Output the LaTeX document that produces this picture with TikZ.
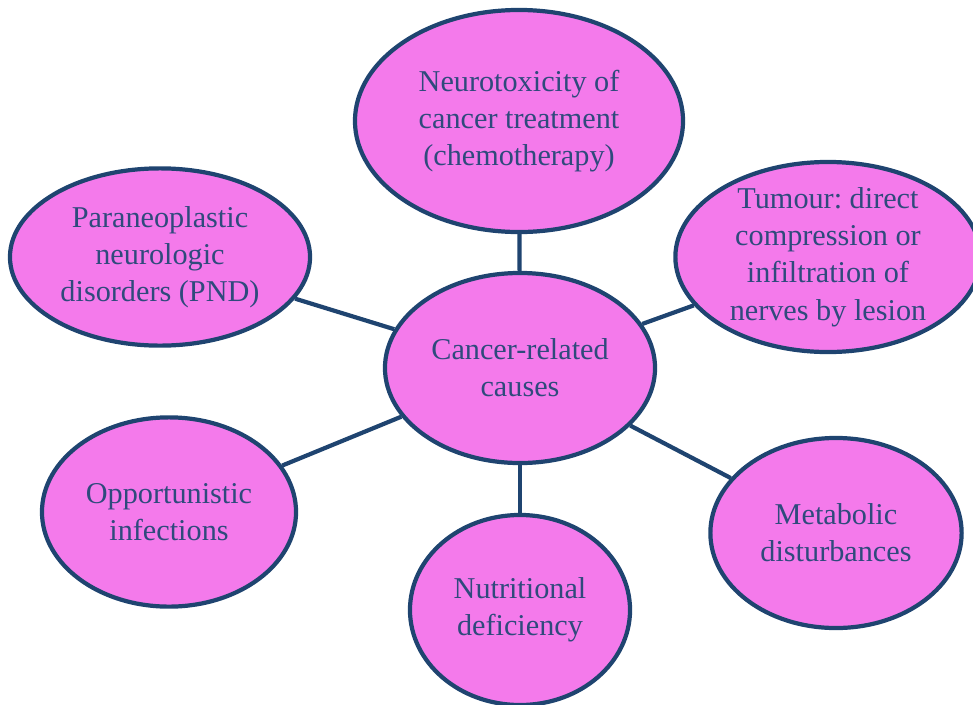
\documentclass[tikz,border=0pt]{standalone}
\usepackage{fontspec}
\setmainfont{Liberation Serif}
\usetikzlibrary{shapes.geometric}
\frenchspacing

\definecolor{bubblefill}{HTML}{F47AEB}
\definecolor{rim}{HTML}{1F4470}
\definecolor{ink}{HTML}{2F4A7C}

\tikzset{
    bubble/.style={shape=ellipse, draw=rim, fill=bubblefill, line width=3pt,
        inner sep=0pt, align=center, text=ink,
        font={\fontsize{21.5}{26.5}\selectfont}},
    spoke/.style={draw=rim, line width=3pt}
}

\begin{document}
\begin{tikzpicture}[x=0.025cm, y=-0.025cm]
    \clip (0,0) rectangle (973,704);
    % Define nodes
    \node[bubble, minimum width=6.75cm, minimum height=4.75cm] (cause) at (520,368) {Cancer-related\\causes};
    \node[bubble, minimum width=8.2cm, minimum height=5.55cm] (neuro) at (519,121) {Neurotoxicity of\\cancer treatment\\(chemotherapy)};
    \node[bubble, minimum width=7.5cm, minimum height=4.43cm] (para) at (160,257) {Paraneoplastic\\neurologic\\disorders (PND)};
    \node[bubble, minimum width=7.63cm, minimum height=4.75cm, inner ysep=-8pt] (tumour) at (828,257) {Tumour: direct\\compression or\\infiltration of\\nerves by lesion};
    \node[bubble, minimum width=6.35cm, minimum height=4.73cm] (opport) at (169,512) {Opportunistic\\infections};
    \node[bubble, minimum width=5.5cm, minimum height=4.75cm] (nutri) at (520,610) {Nutritional\\deficiency};
    \node[bubble, minimum width=6.28cm, minimum height=4.75cm] (metab) at (836,533) {Metabolic\\disturbances};
    % Draw edges
    \draw[spoke] (cause) -- (neuro);
    \draw[spoke] (cause) -- (para);
    \draw[spoke] (cause) -- (tumour);
    \draw[spoke] (cause) -- (opport);
    \draw[spoke] (cause) -- (nutri);
    \draw[spoke] (cause) -- (metab);

\end{tikzpicture}
\end{document}
